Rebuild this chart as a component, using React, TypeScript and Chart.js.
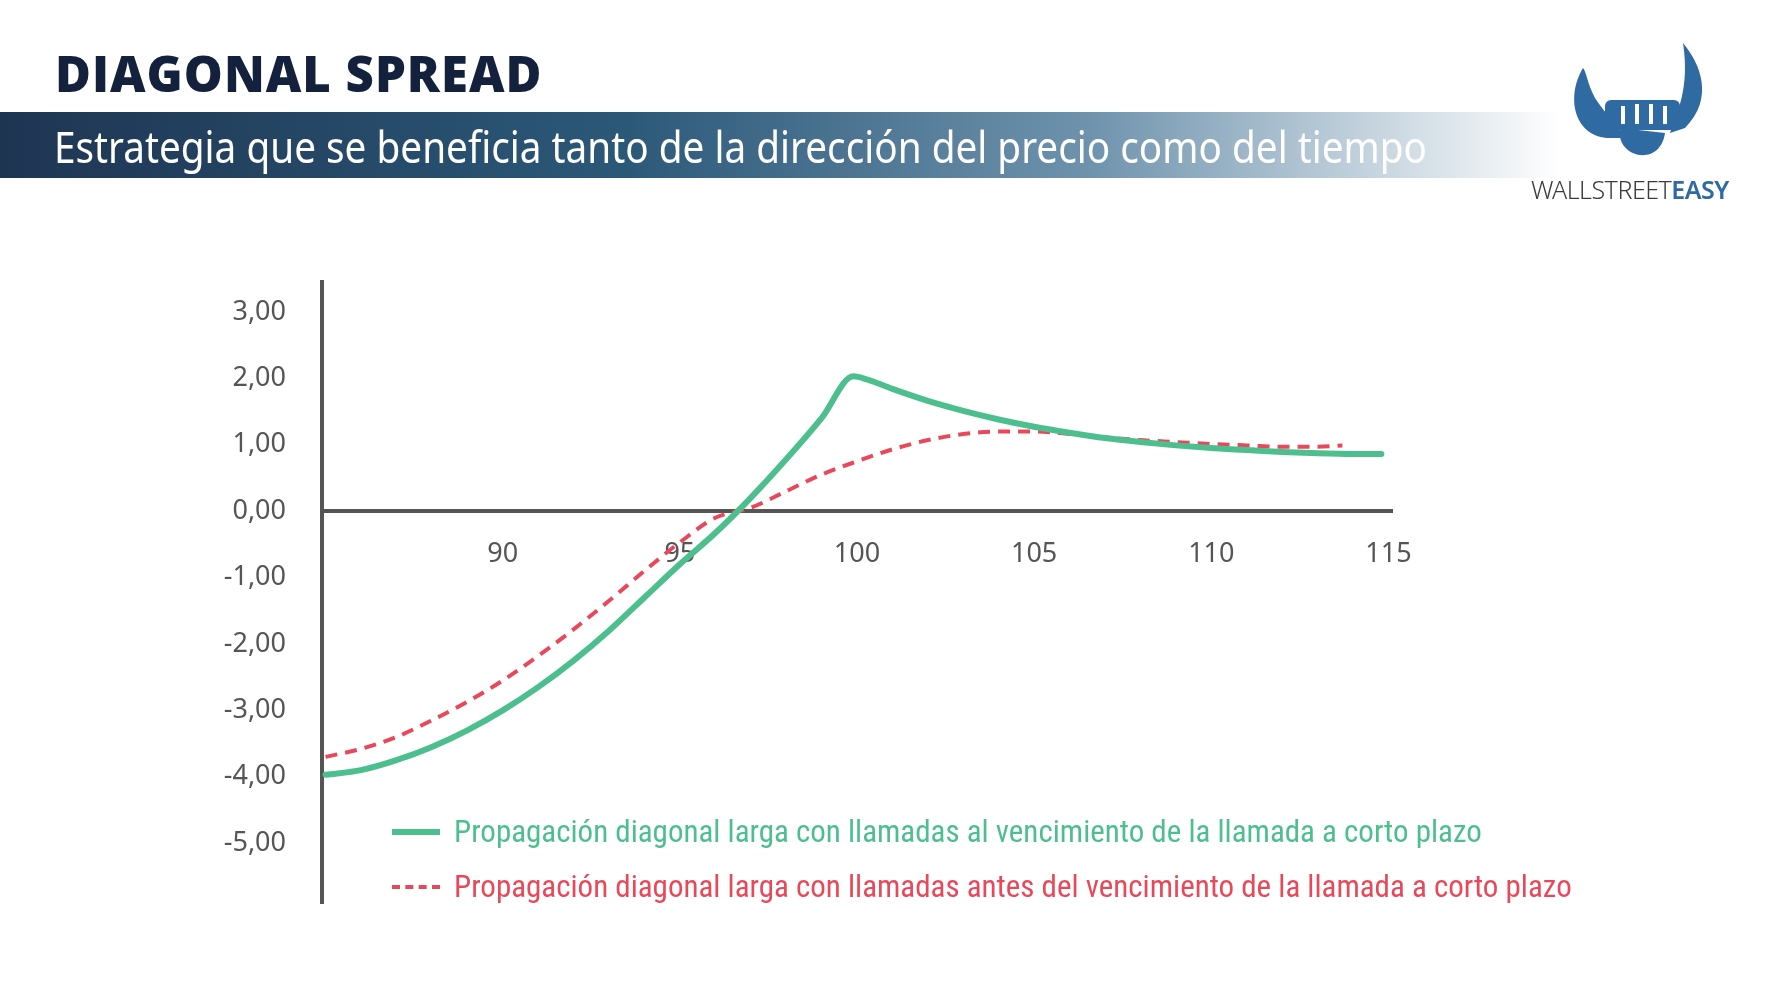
import React, { useEffect, useRef } from "react";
import { Chart, registerables } from "chart.js";
Chart.register(...registerables);

const xGreen = [85, 86, 87, 88, 89, 90, 91, 92, 93, 94, 95, 96, 97, 98, 99, 99.9, 100.3, 101, 102, 103, 104, 105, 106, 107, 108, 109, 110, 111, 112, 113, 114, 114.8];
const yGreen = [-3.97, -3.9, -3.75, -3.55, -3.3, -3.0, -2.65, -2.25, -1.8, -1.3, -0.8, -0.33, 0.2, 0.78, 1.4, 2.03, 1.98, 1.84, 1.66, 1.51, 1.38, 1.27, 1.18, 1.1, 1.04, 0.99, 0.95, 0.92, 0.89, 0.87, 0.86, 0.86];
const xRed = [85, 86, 87, 88, 89, 90, 91, 92, 93, 94, 95, 96, 97, 98, 99, 100, 101, 102, 103, 104, 105, 106, 107, 108, 109, 110, 111, 112, 113, 113.7];
const yRed = [-3.7, -3.58, -3.4, -3.15, -2.87, -2.55, -2.18, -1.78, -1.35, -0.9, -0.47, -0.1, 0.05, 0.3, 0.55, 0.75, 0.93, 1.07, 1.16, 1.2, 1.2, 1.16, 1.11, 1.07, 1.04, 1.01, 0.99, 0.97, 0.97, 0.99];
const xTicks = [90, 95, 100, 105, 110, 115];
const yTicks = [-5, -4, -3, -2, -1, 0, 1, 2, 3];
const greenLabel = "Propagación diagonal larga con llamadas al vencimiento de la llamada a corto plazo";
const redLabel = "Propagación diagonal larga con llamadas antes del vencimiento de la llamada a corto plazo";
const GREEN = "#4dbf8f";
const RED = "#e8495a";

export default function App() {
  const ref = useRef<HTMLCanvasElement>(null);
  useEffect(() => {
    document.body.style.margin = "0";
    const chart = new Chart(ref.current!, {
      type: "line",
      data: {
        datasets: [
          { label: greenLabel, data: xGreen.map((x, i) => ({ x, y: yGreen[i] })), borderColor: GREEN, borderWidth: 6, pointRadius: 0, cubicInterpolationMode: "monotone", borderCapStyle: "round" },
          { label: redLabel, data: xRed.map((x, i) => ({ x, y: yRed[i] })), borderColor: RED, borderWidth: 4, borderDash: [12, 8], pointRadius: 0, cubicInterpolationMode: "monotone" },
        ],
      },
      options: {
        animation: false,
        responsive: false,
        layout: { padding: { left: 0, right: 379, top: 282, bottom: 97 } },
        plugins: { legend: { display: false }, tooltip: { enabled: false } },
        scales: {
          x: {
            type: "linear", position: { y: 0 } as any, min: 84.9, max: 115.1,
            afterBuildTicks: (s: any) => { s.ticks = xTicks.map((v) => ({ value: v })); },
            afterFit: (s: any) => { s.height = 0; },
            grid: { display: false },
            border: { display: true, color: "#555", width: 4 },
            ticks: { color: "#555", padding: 19, font: { family: "Noto Sans", size: 27 }, maxRotation: 0 },
          },
          y: {
            min: -5.9, max: 3.45,
            afterBuildTicks: (s: any) => { s.ticks = yTicks.map((v) => ({ value: v })); },
            afterFit: (s: any) => { s.width = 322; },
            grid: { display: false },
            border: { display: true, color: "#555", width: 4 },
            ticks: { color: "#555", padding: 28, font: { family: "Noto Sans", size: 27 }, callback: (v: any) => Number(v).toFixed(2).replace(".", ",") },
          },
        },
      },
    });
    return () => chart.destroy();
  }, []);

  const legendRow = (color: string, dashed: boolean, text: string, top: number) => (
    <div style={{ position: "absolute", left: 392, top, display: "flex", alignItems: "center" }}>
      <div style={{ width: 48, height: 0, borderTop: dashed ? `4px dashed ${color}` : `6px solid ${color}`, marginRight: 14 }} />
      <span style={{ color, fontFamily: "'Liberation Sans Narrow', 'Roboto Condensed', 'Noto Sans'", fontSize: 31, whiteSpace: "nowrap" }}>{text}</span>
    </div>
  );

  return (
    <div style={{ position: "relative", width: 1771, height: 1000, background: "#fff", overflow: "hidden" }}>
      <canvas ref={ref} width={1771} height={1000} style={{ position: "absolute", left: 0, top: 0 }} />
      <div style={{ position: "absolute", left: 55, top: 40, fontFamily: "'Open Sans'", fontWeight: 800, fontSize: 49, color: "#14213d", letterSpacing: 1 }}>DIAGONAL SPREAD</div>
      <div style={{ position: "absolute", left: 0, top: 112, width: 1560, height: 66, background: "linear-gradient(90deg, #1e3552 0%, #2c5878 40%, #6f93ad 70%, rgba(255,255,255,0) 100%)" }} />
      <div style={{ position: "absolute", left: 54, top: 116, fontFamily: "'Noto Sans'", fontSize: 44, color: "#fff", whiteSpace: "nowrap", transform: "scaleX(0.88)", transformOrigin: "left center" }}>Estrategia que se beneficia tanto de la dirección del precio como del tiempo</div>
      <svg style={{ position: "absolute", left: 1565, top: 38 }} width={150} height={130} viewBox="0 0 150 130">
        <path d="M18 30 C0 60 10 100 45 100 L60 100 C50 85 40 75 30 60 C22 45 22 35 18 30 Z" fill="#2f6aa3" />
        <path d="M118 5 C135 25 150 60 120 90 L105 95 C112 75 125 50 118 5 Z" fill="#2f6aa3" />
        <rect x="40" y="62" width="75" height="30" rx="6" fill="#2f6aa3" />
        <path d="M55 90 C50 120 95 130 100 95 Z" fill="#2f6aa3" />
        <g stroke="#fff" strokeWidth="4">
          <line x1="58" y1="68" x2="58" y2="86" /><line x1="72" y1="66" x2="72" y2="86" /><line x1="86" y1="66" x2="86" y2="86" /><line x1="100" y1="68" x2="100" y2="86" />
        </g>
      </svg>
      <div style={{ position: "absolute", left: 1531, top: 172, fontFamily: "'Noto Sans'", fontSize: 25, whiteSpace: "nowrap", letterSpacing: -0.5 }}>
        <span style={{ color: "#3b3b3b", fontWeight: 300 }}>WALLSTREET</span><span style={{ color: "#2f6aa3", fontWeight: 600 }}>EASY</span>
      </div>
      {legendRow(GREEN, false, greenLabel, 813)}
      {legendRow(RED, true, redLabel, 868)}
    </div>
  );
}
